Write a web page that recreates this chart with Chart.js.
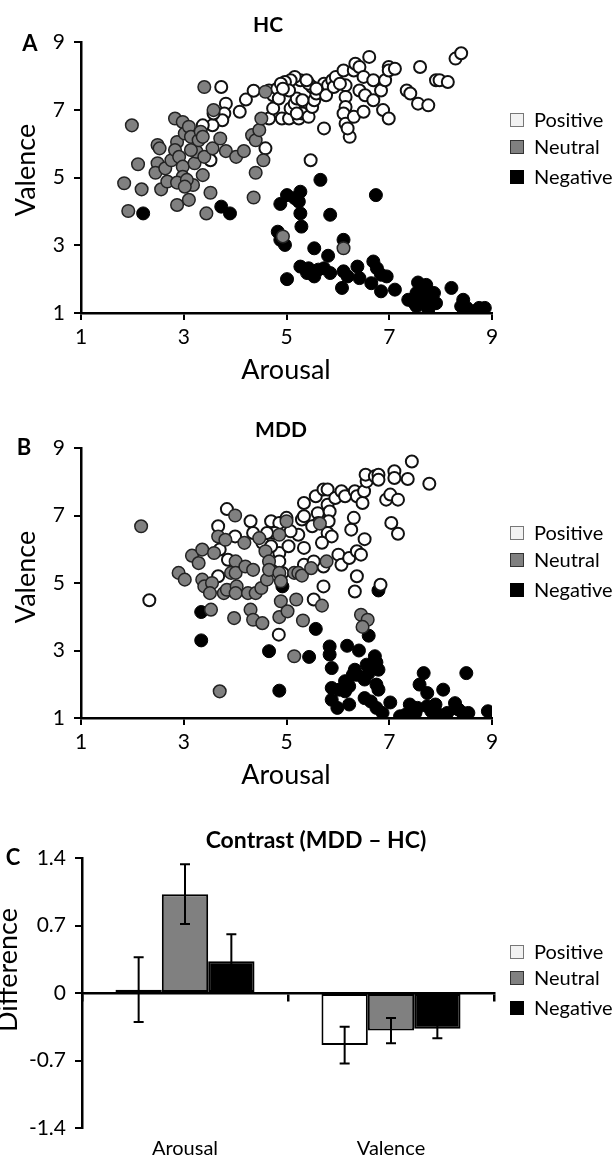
<!DOCTYPE html>
<html>
<head>
<meta charset="utf-8">
<script src="https://cdn.jsdelivr.net/npm/chart.js@4.4.1/dist/chart.umd.min.js"></script>
<style>
  body { margin: 0; background: #fff; }
  canvas { position: absolute; left: 0; }
</style>
</head>
<body>
<canvas id="hcChart" width="614" height="385" style="top:0px"></canvas>
<canvas id="mddChart" width="614" height="410" style="top:380px"></canvas>
<canvas id="contrastChart" width="614" height="380" style="top:785px"></canvas>
<script>
// [arousal, valence] pairs
var hcPositive = [
  [3.73,7.67],[3.82,7.18],[3.79,6.89],[3.75,6.69],[3.56,6.54],[3.58,6.89],[3.37,6.54],[4.09,6.94],
  [4.21,7.30],[4.36,7.56],[4.59,5.86],[3.52,5.51],[4.66,6.74],[4.74,7.04],[4.66,7.57],[4.74,7.43],
  [4.82,7.62],[4.85,7.33],[4.91,6.74],[5.05,6.74],[5.24,6.74],[5.08,7.04],[5.16,7.18],[5.20,7.33],
  [5.31,6.89],[5.43,6.79],[5.50,7.08],[5.54,7.28],[5.58,7.48],[5.50,7.67],[5.43,7.77],[5.27,7.87],
  [5.16,7.97],[5.08,7.87],[4.97,7.82],[4.89,7.77],[5.47,5.51],[5.39,7.87],[5.73,6.45],[5.73,7.77],
  [5.81,7.72],[5.77,7.43],[5.89,7.87],[5.92,7.67],[5.96,7.97],[6.11,8.16],[6.15,7.72],[6.15,7.38],
  [6.15,7.08],[6.11,6.89],[6.15,6.59],[6.23,6.20],[6.19,6.45],[6.31,6.79],[6.50,6.94],[6.31,8.16],
  [6.34,8.36],[6.42,8.26],[6.61,8.56],[6.50,7.97],[6.42,7.57],[6.53,7.43],[6.69,7.28],[6.69,7.87],
  [6.84,7.57],[6.92,7.87],[6.99,8.26],[6.99,8.16],[7.11,8.21],[6.88,6.99],[6.99,6.74],[7.34,7.57],
  [7.41,7.48],[7.56,7.18],[7.76,7.13],[7.60,8.26],[7.91,7.87],[7.98,7.87],[8.14,7.82],[8.29,8.51],
  [8.40,8.67],[5.31,7.28],[5.20,6.89],[5.58,7.62],[6.04,7.77],[5.05,7.57],[4.93,7.62]
];
var hcNeutral = [
  [3.40,7.67],[1.99,6.54],[1.84,4.83],[1.92,4.01],[2.11,5.39],[2.18,4.65],[2.49,5.96],[2.53,5.86],
  [2.49,5.42],[2.45,5.14],[2.56,4.65],[2.68,4.88],[2.64,5.27],[2.76,5.51],[2.83,6.74],[2.87,6.05],
  [2.83,5.81],[2.91,5.61],[2.98,6.64],[3.02,6.30],[3.10,6.50],[3.14,6.20],[2.98,5.32],[2.98,5.02],
  [2.87,4.85],[2.87,4.19],[3.10,4.34],[3.18,4.78],[3.06,4.93],[3.21,5.42],[3.25,5.76],[3.29,6.10],
  [3.33,6.35],[3.37,6.20],[3.37,5.07],[3.40,5.61],[3.44,3.94],[3.52,4.55],[3.56,5.86],[3.58,6.99],
  [3.71,6.15],[3.82,5.78],[4.02,5.61],[4.17,5.78],[4.33,6.25],[4.40,6.10],[4.47,6.40],[4.51,6.74],
  [4.55,5.51],[4.40,5.14],[4.36,4.41],[4.59,7.53],[4.93,3.26],[6.11,2.91],[3.14,5.81],[3.02,4.73]
];
var hcNegative = [
  [2.21,3.94],[3.73,4.14],[3.90,3.94],[5.66,4.93],[6.74,4.48],[4.88,4.22],[5.01,4.48],[5.16,4.39],
  [5.27,4.58],[5.24,4.29],[5.27,3.94],[5.85,3.90],[5.29,3.55],[4.83,3.40],[4.88,3.16],[4.97,3.01],
  [5.54,2.91],[5.81,2.69],[6.11,3.16],[5.01,2.00],[5.27,2.37],[5.43,2.32],[5.54,2.08],[5.62,2.28],
  [5.73,2.32],[5.85,2.18],[6.11,2.23],[6.19,2.08],[6.08,1.74],[6.38,2.37],[6.42,2.03],[6.69,2.52],
  [6.65,1.88],[6.76,2.32],[6.84,2.13],[6.84,1.64],[6.95,2.08],[7.11,1.69],[7.37,1.39],[7.53,1.59],
  [7.56,1.90],[7.53,1.20],[7.64,1.34],[7.68,1.69],[7.72,1.83],[7.76,1.10],[7.79,1.44],[7.87,1.59],
  [7.91,1.29],[8.21,1.74],[8.44,1.39],[8.40,1.20],[8.51,1.15],[8.66,1.05],[8.75,1.15],[8.86,1.15],
  [7.49,1.29],[5.40,2.18]
];
var mddPositive = [
  [2.33,4.49],[3.84,7.19],[3.67,6.68],[4.00,6.38],[4.30,6.83],[4.35,6.48],[4.53,6.19],[4.70,6.83],
  [4.86,6.78],[4.77,6.48],[4.86,5.89],[4.86,5.64],[5.04,6.09],[5.23,6.43],[5.30,6.88],[5.34,6.98],
  [5.34,7.37],[5.34,6.04],[5.34,5.54],[5.57,7.57],[5.61,7.07],[5.62,6.78],[5.72,7.77],[5.80,7.77],
  [5.80,7.32],[5.84,7.12],[5.82,6.83],[5.80,6.48],[5.88,6.38],[5.69,6.19],[5.72,5.49],[5.72,4.90],
  [5.53,4.51],[5.95,7.52],[6.07,7.72],[6.14,7.57],[6.01,5.84],[6.07,5.54],[6.22,5.74],[6.26,6.58],
  [6.31,6.93],[6.33,7.72],[6.37,7.57],[6.48,7.37],[6.51,7.72],[6.56,8.01],[6.54,8.21],[6.72,8.16],
  [6.79,8.21],[6.79,8.06],[6.37,5.94],[6.45,5.84],[6.52,6.30],[6.37,5.20],[6.33,4.75],[6.83,4.95],
  [6.94,7.47],[7.02,7.62],[7.10,8.31],[7.10,8.11],[7.17,7.47],[7.04,6.78],[7.17,6.46],[7.36,8.08],
  [7.44,8.60],[7.78,7.94],[4.85,3.47],[5.00,6.93],[5.08,6.53],[4.70,6.09],[4.62,6.48],[4.92,5.30],
  [5.50,6.68],[5.53,5.64],[3.70,5.99],[3.86,5.69],[3.67,5.20]
];
var mddNeutral = [
  [2.17,6.68],[2.90,5.30],[3.02,5.10],[3.16,5.81],[3.29,5.59],[3.36,5.99],[3.36,5.10],[3.40,4.90],
  [3.55,5.00],[3.51,4.70],[3.53,4.21],[3.59,5.89],[3.67,6.38],[3.70,1.79],[3.78,4.70],[3.81,6.28],
  [3.84,4.80],[3.92,5.30],[4.00,7.00],[4.01,5.64],[4.01,5.30],[4.03,4.90],[4.01,4.70],[3.98,3.96],
  [4.18,6.19],[4.20,5.49],[4.25,4.70],[4.30,4.21],[4.35,3.91],[4.35,5.39],[4.40,4.70],[4.47,6.33],
  [4.51,4.85],[4.53,3.81],[4.59,5.94],[4.66,5.64],[4.62,5.10],[4.66,5.39],[4.86,6.43],[4.86,5.30],
  [4.89,5.05],[4.89,4.46],[4.86,3.99],[5.00,6.83],[5.02,4.16],[5.15,2.83],[5.15,5.30],[5.19,4.51],
  [5.23,5.30],[5.30,5.22],[5.32,3.89],[5.48,5.44],[5.65,6.76],[5.69,4.33],[5.78,5.64],[6.45,4.06],
  [6.58,3.91],[6.48,3.70]
];
var mddNegative = [
  [3.34,4.14],[3.34,3.30],[4.66,2.98],[4.86,1.81],[4.92,4.90],[5.44,2.81],[5.57,3.64],[6.79,4.78],
  [6.60,3.44],[5.84,3.12],[5.84,2.88],[5.88,2.48],[6.18,3.14],[6.41,3.00],[6.72,2.83],[6.75,2.65],
  [6.56,2.58],[6.33,2.43],[6.29,2.28],[6.14,2.09],[6.22,1.94],[5.88,1.89],[5.88,1.54],[6.03,1.84],
  [6.14,1.79],[5.99,1.30],[6.22,1.40],[6.37,2.28],[6.52,2.14],[6.60,2.33],[6.79,2.43],[6.75,1.99],
  [6.79,1.84],[6.52,1.59],[6.64,1.49],[6.75,1.30],[6.87,1.15],[7.02,1.46],[7.21,1.05],[7.32,1.10],
  [7.40,1.40],[7.44,1.05],[7.51,1.15],[7.55,1.30],[7.59,1.99],[7.67,2.33],[7.74,1.74],[7.74,1.35],
  [7.82,1.20],[7.90,1.40],[7.97,1.10],[8.05,1.84],[8.13,1.15],[8.28,1.44],[8.35,1.25],[8.43,1.15],
  [8.50,2.33],[8.54,1.15],[8.92,1.20]
];
var scatterTicks = [1, 3, 5, 7, 9];

// contrast panel: MDD - HC mean difference and error half-widths
var contrastCategories = ['Arousal', 'Valence'];
var contrastPositive = [0.035, -0.54];
var contrastNeutral = [1.025, -0.39];
var contrastNegative = [0.33, -0.37];
var contrastPositiveErr = [0.335, 0.19];
var contrastNeutralErr = [0.31, 0.13];
var contrastNegativeErr = [0.28, 0.10];
var contrastTicks = [-1.4, -0.7, 0, 0.7, 1.4];

var legendNames = ['Positive', 'Neutral', 'Negative'];
var FONT = 'Lato, "Open Sans", sans-serif';

function toPoints(list) {
  return list.map(function(p) { return {x: p[0], y: p[1]}; });
}

// titles, panel letter, axis titles and the side legend
var decorPlugin = {
  id: 'decor',
  afterDraw: function(chart, args, o) {
    var ctx = chart.ctx;
    ctx.save();
    ctx.fillStyle = '#000';
    ctx.textAlign = 'center';
    ctx.textBaseline = 'middle';
    ctx.font = 'bold 22px ' + FONT;
    ctx.fillText(o.letter, o.letterX, o.letterY);
    ctx.font = 'bold ' + (o.titleSize || 21) + 'px ' + FONT;
    ctx.fillText(o.title, o.titleX, o.titleY);
    ctx.font = '27px ' + FONT;
    if (o.xTitle) {
      ctx.textBaseline = 'alphabetic';
      ctx.fillText(o.xTitle, o.xTitleX, o.xTitleY);
    }
    ctx.save();
    ctx.translate(o.yTitleX, o.yTitleY);
    ctx.rotate(-Math.PI / 2);
    ctx.textBaseline = 'alphabetic';
    ctx.fillText(o.yTitle, 0, 0);
    ctx.restore();
    var fills = ['#f2f2f2', '#808080', '#000'];
    var edges = ['#777', '#333', '#000'];
    ctx.textAlign = 'left';
    ctx.textBaseline = 'middle';
    ctx.font = '20px ' + FONT;
    legendNames.forEach(function(name, i) {
      var y = o.legendY[i];
      ctx.fillStyle = fills[i];
      ctx.fillRect(510, y - 7, 14, 14);
      ctx.strokeStyle = edges[i];
      ctx.lineWidth = 1;
      ctx.strokeRect(510.5, y - 6.5, 13, 13);
      ctx.fillStyle = '#000';
      ctx.fillText(name, 534, y + 1);
    });
    ctx.restore();
  }
};

var errorBarPlugin = {
  id: 'errorBars',
  afterDatasetsDraw: function(chart) {
    var ctx = chart.ctx, y = chart.scales.y;
    ctx.save();
    ctx.strokeStyle = '#000';
    ctx.lineWidth = 2;
    chart.data.datasets.forEach(function(ds, i) {
      chart.getDatasetMeta(i).data.forEach(function(bar, j) {
        var hi = y.getPixelForValue(ds.data[j] + ds.errors[j]);
        var lo = y.getPixelForValue(ds.data[j] - ds.errors[j]);
        ctx.beginPath();
        ctx.moveTo(bar.x, hi); ctx.lineTo(bar.x, lo);
        ctx.moveTo(bar.x - 5, hi); ctx.lineTo(bar.x + 5, hi);
        ctx.moveTo(bar.x - 5, lo); ctx.lineTo(bar.x + 5, lo);
        ctx.stroke();
      });
    });
    ctx.restore();
  }
};

function axisTicks(values) {
  return function(scale) {
    scale.ticks = values.map(function(v) { return {value: v}; });
  };
}

function scatterChart(id, pos, neu, neg, topPad, decor) {
  var canvas = document.getElementById(id);
  return new Chart(canvas.getContext('2d'), {
    type: 'scatter',
    data: {
      datasets: [
        {label: 'Neutral', data: toPoints(neu), order: 0, backgroundColor: '#808080',
          borderColor: '#222', borderWidth: 1.5, pointRadius: 6.3},
        {label: 'Positive', data: toPoints(pos), order: 1, backgroundColor: '#fff',
          borderColor: '#111', borderWidth: 2, pointRadius: 6},
        {label: 'Negative', data: toPoints(neg), order: 2, backgroundColor: '#000',
          borderColor: '#000', borderWidth: 1, pointRadius: 6.5}
      ]
    },
    options: {
      responsive: false,
      animation: false,
      events: [],
      layout: {padding: {top: topPad, right: 122, bottom: 0, left: 0}},
      plugins: {legend: {display: false}, tooltip: {enabled: false}, decor: decor},
      scales: {
        x: {
          type: 'linear', min: 1, max: 9,
          afterBuildTicks: axisTicks(scatterTicks),
          afterFit: function(s) { s.height = 72; },
          border: {color: '#000', width: 2.5},
          grid: {drawOnChartArea: false, color: '#000', lineWidth: 2, tickLength: 7},
          ticks: {color: '#000', font: {family: FONT, size: 21}, padding: 5, maxRotation: 0}
        },
        y: {
          min: 1, max: 9,
          afterBuildTicks: axisTicks(scatterTicks),
          afterFit: function(s) { s.width = 81; },
          border: {color: '#000', width: 2.5},
          grid: {drawOnChartArea: false, color: '#000', lineWidth: 2, tickLength: 7},
          ticks: {color: '#000', font: {family: FONT, size: 21}, padding: 9}
        }
      }
    },
    plugins: [decorPlugin]
  });
}

document.addEventListener('DOMContentLoaded', function() {
  scatterChart('hcChart', hcPositive, hcNeutral, hcNegative, 42, {
    letter: 'A', letterX: 30, letterY: 44, title: 'HC', titleX: 268, titleY: 25,
    xTitle: 'Arousal', xTitleX: 286, xTitleY: 379,
    yTitle: 'Valence', yTitleX: 35, yTitleY: 170, legendY: [120, 147, 177]
  });
  scatterChart('mddChart', mddPositive, mddNeutral, mddNegative, 68, {
    letter: 'B', letterX: 24, letterY: 68, title: 'MDD', titleX: 281, titleY: 50,
    xTitle: 'Arousal', xTitleX: 286, xTitleY: 404,
    yTitle: 'Valence', yTitleX: 35, yTitleY: 197, legendY: [153, 180, 210]
  });

  var ctx = document.getElementById('contrastChart').getContext('2d');
  var contrastChart = new Chart(ctx, {
    type: 'bar',
    data: {
      labels: contrastCategories,
      datasets: [
        {label: 'Positive', data: contrastPositive, errors: contrastPositiveErr, backgroundColor: '#fff'},
        {label: 'Neutral', data: contrastNeutral, errors: contrastNeutralErr, backgroundColor: '#808080'},
        {label: 'Negative', data: contrastNegative, errors: contrastNegativeErr, backgroundColor: '#000'}
      ]
    },
    options: {
      responsive: false,
      animation: false,
      events: [],
      datasets: {bar: {borderColor: '#000', borderWidth: 2, borderSkipped: false,
        categoryPercentage: 0.675, barPercentage: 1.0}},
      layout: {padding: {top: 73, right: 120, bottom: 0, left: 0}},
      plugins: {legend: {display: false}, tooltip: {enabled: false},
        decor: {letter: 'C', letterX: 13, letterY: 73, title: 'Contrast (MDD \u2013 HC)',
          titleSize: 23, titleX: 316, titleY: 56, yTitle: 'Difference', yTitleX: 17, yTitleY: 185,
          legendY: [167, 193, 223]}},
      scales: {
        x: {
          afterFit: function(s) { s.height = 37; },
          border: {display: false},
          grid: {display: false, drawTicks: false},
          ticks: {color: '#000', font: {family: FONT, size: 20}, padding: 9}
        },
        x2: {
          axis: 'x', type: 'category', position: {y: 0}, offset: true,
          afterFit: function(s) { s.height = 0; },
          border: {color: '#000', width: 2.5},
          grid: {offset: true, drawOnChartArea: false, color: '#000', lineWidth: 2.5, tickLength: 7},
          ticks: {display: false}
        },
        y: {
          min: -1.4, max: 1.4,
          afterBuildTicks: axisTicks(contrastTicks),
          afterFit: function(s) { s.width = 82; },
          border: {color: '#000', width: 2.5},
          grid: {drawOnChartArea: false, color: '#000', lineWidth: 2, tickLength: 7},
          ticks: {color: '#000', font: {family: FONT, size: 21}, padding: 9,
            callback: function(v) { return String(v); }}
        }
      }
    },
    plugins: [errorBarPlugin, decorPlugin]
  });
});
</script>
</body>
</html>
